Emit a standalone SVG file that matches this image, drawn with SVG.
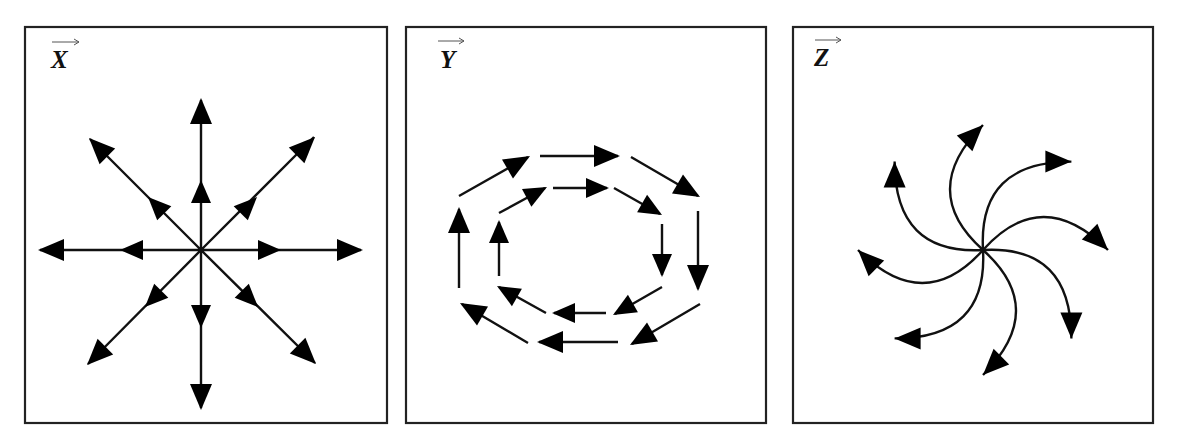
<svg xmlns="http://www.w3.org/2000/svg" xmlns:xlink="http://www.w3.org/1999/xlink" width="1180" height="442" viewBox="0 0 1180 442">
<style>
.box{fill:#fff;stroke:#222;stroke-width:2.2}
.ln{fill:none;stroke:#111;stroke-width:2.4}
.lbl{font-family:"Liberation Serif",serif;font-style:italic;font-weight:bold;font-size:25px;fill:#111}
.vec{fill:none;stroke:#555;stroke-width:1}
</style>
<defs>
<path id="ah" d="M0,0 L-26,-11 L-26,11 Z" fill="#000"/>
<path id="as" d="M0,0 L-23,-10 L-23,10 Z" fill="#000"/>
<g id="sw">
<path class="ln" d="M983,250 Q917,191 983,125"/>
<use href="#ah" transform="translate(983,125) rotate(-45)"/>
</g>
</defs>
<rect width="1180" height="442" fill="#fff"/>
<g id="panelX">
<rect class="box" x="25" y="27" width="362" height="396"/>
<text class="lbl" x="51" y="68">X</text>
<path class="vec" d="M52,42 H79 M74,39 L79,42 L74,45"/>
<g id="connX">
<path class="ln" d="M201,250 V100 M201,250 V408 M201,250 H40 M201,250 H361 M201,250 L90,139 M201,250 L314,137 M201,250 L88,364 M201,250 L315,363"/>
<use href="#ah" transform="translate(201,98) rotate(-90)"/>
<use href="#ah" transform="translate(201,410) rotate(90)"/>
<use href="#ah" transform="translate(38,250) rotate(180)"/>
<use href="#ah" transform="translate(363,250)"/>
<use href="#ah" transform="translate(89,138) rotate(-135)"/>
<use href="#ah" transform="translate(315,137) rotate(-45)"/>
<use href="#ah" transform="translate(87,365) rotate(135)"/>
<use href="#ah" transform="translate(316,364) rotate(45)"/>
<use href="#as" transform="translate(201,180) rotate(-90)"/>
<use href="#as" transform="translate(201,328) rotate(90)"/>
<use href="#as" transform="translate(120,250) rotate(180)"/>
<use href="#as" transform="translate(281,250)"/>
<use href="#as" transform="translate(148,197) rotate(-135)"/>
<use href="#as" transform="translate(257,197) rotate(-45)"/>
<use href="#as" transform="translate(145,307) rotate(135)"/>
<use href="#as" transform="translate(258,307) rotate(45)"/>
</g>
</g>
<g id="panelY">
<rect class="box" x="406" y="27" width="360" height="396"/>
<text class="lbl" x="440" y="68">Y</text>
<path class="vec" d="M438,41 H464 M459,38 L464,41 L459,44"/>
<g id="connY">
<path class="ln" d="M459,196 L528,157 M540,156 H618 M631,157 L698,196 M698,211 V289 M700,304 L632,344 M618,342 H539 M528,343 L462,304 M459,288 V209"/>
<use href="#ah" transform="translate(530,156) rotate(-30)"/>
<use href="#ah" transform="translate(620,156)"/>
<use href="#ah" transform="translate(700,197) rotate(30)"/>
<use href="#ah" transform="translate(698,291) rotate(90)"/>
<use href="#ah" transform="translate(630,345) rotate(150)"/>
<use href="#ah" transform="translate(537,342) rotate(180)"/>
<use href="#ah" transform="translate(460,303) rotate(-150)"/>
<use href="#ah" transform="translate(459,207) rotate(-90)"/>
<path class="ln" d="M499,213 L545,188 M553,188 H607 M614,188 L660,214 M662,224 V275 M662,287 L615,314 M606,313 H554 M546,313 L499,287 M499,276 V222"/>
<use href="#as" transform="translate(547,187) rotate(-28)"/>
<use href="#as" transform="translate(609,188)"/>
<use href="#as" transform="translate(662,215) rotate(30)"/>
<use href="#as" transform="translate(662,277) rotate(90)"/>
<use href="#as" transform="translate(613,315) rotate(150)"/>
<use href="#as" transform="translate(552,313) rotate(180)"/>
<use href="#as" transform="translate(497,286) rotate(-150)"/>
<use href="#as" transform="translate(499,220) rotate(-90)"/>
</g>
</g>
<g id="panelZ">
<rect class="box" x="793" y="27" width="360" height="396"/>
<text class="lbl" x="814" y="66">Z</text>
<path class="vec" d="M815,40 H841 M836,37 L841,40 L836,43"/>
<g id="connZ">
<use href="#sw"/>
<use href="#sw" transform="rotate(45 983 250)"/>
<use href="#sw" transform="rotate(90 983 250)"/>
<use href="#sw" transform="rotate(135 983 250)"/>
<use href="#sw" transform="rotate(180 983 250)"/>
<use href="#sw" transform="rotate(225 983 250)"/>
<use href="#sw" transform="rotate(270 983 250)"/>
<use href="#sw" transform="rotate(315 983 250)"/>
</g>
</g>
</svg>
